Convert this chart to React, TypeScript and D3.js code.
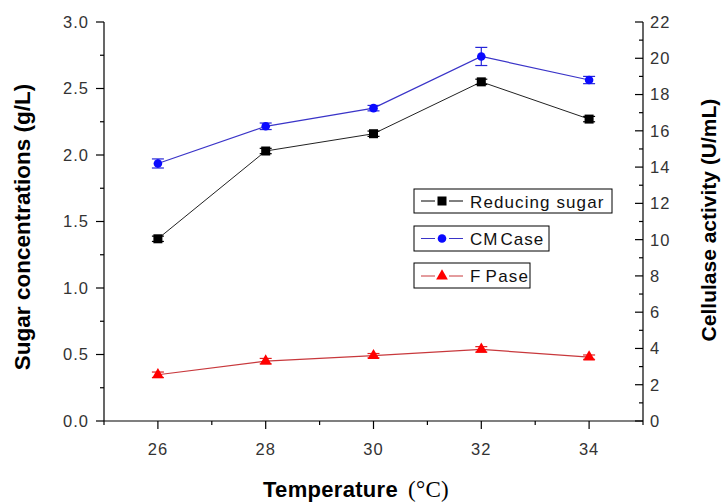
import React from "react";
import * as d3 from "d3";

const temperatures = [26, 28, 30, 32, 34];
const reducingSugar = [1.37, 2.03, 2.16, 2.55, 2.27];
const reducingSugarErr = [0.02, 0.02, 0.02, 0.02, 0.02];
const cmcase = [14.2, 16.25, 17.25, 20.1, 18.8];
const cmcaseErr = [0.25, 0.18, 0.15, 0.5, 0.2];
const fpase = [2.55, 3.3, 3.6, 3.95, 3.52];
const fpaseErr = [0.15, 0.15, 0.12, 0.15, 0.12];

const xTicks = [26, 28, 30, 32, 34];
const xMinorTicks = [25, 27, 29, 31, 33, 35];
const leftTicks = [0, 0.5, 1.0, 1.5, 2.0, 2.5, 3.0];
const leftMinor = [0.25, 0.75, 1.25, 1.75, 2.25, 2.75];
const rightTicks = [0, 2, 4, 6, 8, 10, 12, 14, 16, 18, 20, 22];
const rightMinor = [1, 3, 5, 7, 9, 11, 13, 15, 17, 19, 21];

const W = 723;
const H = 502;
const left = 104;
const right = 643;
const top = 22;
const bottom = 421;
const font = "'Liberation Sans', Arial, sans-serif";

// legend sample: two short line pieces with the marker in the gap
function LegendLine({ y, color }: { y: number; color: string }) {
  return (
    <g stroke={color} strokeWidth={1}>
      <line x1={421} x2={435} y1={y} y2={y} />
      <line x1={449} x2={463} y1={y} y2={y} />
    </g>
  );
}

export default function App() {
  const x = d3.scaleLinear().domain([25, 35]).range([left, right]);
  const yL = d3.scaleLinear().domain([0, 3]).range([bottom, top]);
  const yR = d3.scaleLinear().domain([0, 22]).range([bottom, top]);

  const line = (vals: number[], y: d3.ScaleLinear<number, number>) =>
    d3.line<number>().x((_, i) => x(temperatures[i])).y((v) => y(v))(vals) || "";

  const errBars = (vals: number[], errs: number[], y: d3.ScaleLinear<number, number>, color: string) =>
    vals.map((v, i) => {
      const cx = x(temperatures[i]);
      const y1 = y(v + errs[i]);
      const y2 = y(v - errs[i]);
      return (
        <g key={i} stroke={color} strokeWidth={1.2}>
          <line x1={cx} x2={cx} y1={y1} y2={y2} />
          <line x1={cx - 6} x2={cx + 6} y1={y1} y2={y1} />
          <line x1={cx - 6} x2={cx + 6} y1={y2} y2={y2} />
        </g>
      );
    });

  const tri = d3.symbol().type(d3.symbolTriangle).size(60)() || "";

  return (
    <svg width={W} height={H} style={{ display: "block", position: "absolute", left: 0, top: 0, background: "#fff" }}>
      {/* axes */}
      <g stroke="#000" strokeWidth={1.2} fill="none">
        <line x1={left} x2={left} y1={top} y2={bottom} />
        <line x1={right} x2={right} y1={top} y2={bottom} />
        <line x1={left} x2={right} y1={bottom} y2={bottom} />
        {leftTicks.map((t) => (
          <line key={"lt" + t} x1={left - 8} x2={left} y1={yL(t)} y2={yL(t)} />
        ))}
        {leftMinor.map((t) => (
          <line key={"lm" + t} x1={left - 4} x2={left} y1={yL(t)} y2={yL(t)} />
        ))}
        {rightTicks.map((t) => (
          <line key={"rt" + t} x1={right - 8} x2={right} y1={yR(t)} y2={yR(t)} />
        ))}
        {rightMinor.map((t) => (
          <line key={"rm" + t} x1={right - 4} x2={right} y1={yR(t)} y2={yR(t)} />
        ))}
        {xTicks.map((t) => (
          <line key={"xt" + t} x1={x(t)} x2={x(t)} y1={bottom} y2={bottom + 8} />
        ))}
        {xMinorTicks.map((t) => (
          <line key={"xm" + t} x1={x(t)} x2={x(t)} y1={bottom} y2={bottom + 4} />
        ))}
      </g>

      {/* tick labels */}
      <g fontFamily={font} fontSize={16.5} fill="#333" letterSpacing={1}>
        {leftTicks.map((t) => (
          <text key={"ll" + t} x={left - 15} y={yL(t)} dy="0.36em" textAnchor="end">
            {d3.format(".1f")(t)}
          </text>
        ))}
        {rightTicks.map((t) => (
          <text key={"rl" + t} x={right + 7} y={yR(t)} dy="0.36em" textAnchor="start">
            {t}
          </text>
        ))}
        {xTicks.map((t) => (
          <text key={"xl" + t} x={x(t)} y={bottom + 34} textAnchor="middle">
            {t}
          </text>
        ))}
      </g>

      {/* axis titles */}
      <text
        transform={`translate(30,227) rotate(-90)`}
        textAnchor="middle"
        fontFamily={font}
        fontWeight="bold"
        fontSize={22.5}
        fill="#000"
      >
        Sugar concentrations (g/L)
      </text>
      <text
        transform={`translate(716,220) rotate(-90)`}
        textAnchor="middle"
        fontFamily={font}
        fontWeight="bold"
        fontSize={21}
        fill="#000"
      >
        Cellulase activity (U/mL)
      </text>
      <text x={263} y={497} textAnchor="start" fontFamily={font} fontWeight="bold" fontSize={22} fill="#000" letterSpacing={0.3}>
        Temperature
        <tspan dx={10} fontFamily="'Liberation Serif', 'Times New Roman', serif" fontWeight="normal" fontSize={23}>
          (°C)
        </tspan>
      </text>

      {/* series */}
      <path d={line(reducingSugar, yL)} fill="none" stroke="#222" strokeWidth={1} />
      <path d={line(cmcase, yR)} fill="none" stroke="#3a34c8" strokeWidth={1.2} />
      <path d={line(fpase, yR)} fill="none" stroke="#c8383c" strokeWidth={1.2} />

      {errBars(reducingSugar, reducingSugarErr, yL, "#000")}
      {errBars(cmcase, cmcaseErr, yR, "#2626d8")}
      {errBars(fpase, fpaseErr, yR, "#e02020")}

      {reducingSugar.map((v, i) => (
        <rect key={"rs" + i} x={x(temperatures[i]) - 4.5} y={yL(v) - 4.5} width={9} height={9} fill="#000" />
      ))}
      {cmcase.map((v, i) => (
        <circle key={"cm" + i} cx={x(temperatures[i])} cy={yR(v)} r={4.3} fill="#0a0aff" />
      ))}
      {fpase.map((v, i) => (
        <path key={"fp" + i} d={tri} transform={`translate(${x(temperatures[i])},${yR(v)})`} fill="#ff0000" />
      ))}

      {/* legend boxes */}
      <g fontFamily={font} fontSize={17} fill="#111">
        <rect x={414} y={189} width={198} height={24} fill="#fff" stroke="#000" strokeWidth={1} />
        <LegendLine y={201} color="#000" />
        <rect x={437.5} y={196.5} width={9} height={9} fill="#000" />
        <text x={470} y={207.5} letterSpacing={1.1}>Reducing sugar</text>

        <rect x={414} y={226} width={135} height={25} fill="#fff" stroke="#000" strokeWidth={1} />
        <LegendLine y={238.5} color="#3a34c8" />
        <circle cx={442} cy={238.5} r={4.3} fill="#0a0aff" />
        <text x={470} y={245} letterSpacing={1}>
          CM<tspan dx={2}>Case</tspan>
        </text>

        <rect x={414} y={263} width={116} height={25} fill="#fff" stroke="#000" strokeWidth={1} />
        <LegendLine y={276} color="#c8383c" />
        <path d={tri} transform="translate(442,276)" fill="#ff0000" />
        <text x={470} y={282} letterSpacing={1.2}>
          F<tspan dx={4}>Pase</tspan>
        </text>
      </g>
    </svg>
  );
}
